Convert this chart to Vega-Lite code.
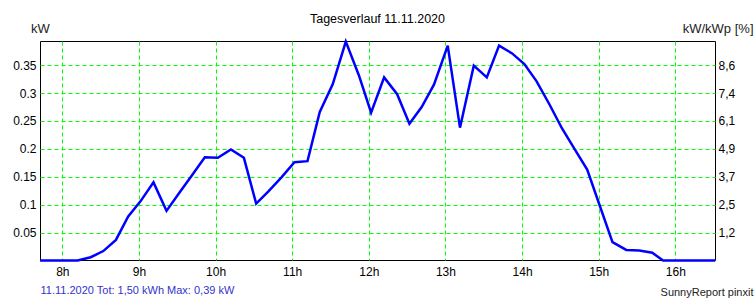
{
  "$schema": "https://vega.github.io/schema/vega-lite/v6.json",
  "width": 675,
  "height": 219,
  "autosize": {"type": "none"},
  "padding": {"left": 40, "top": 41, "right": 41, "bottom": 40},
  "background": "white",
  "title": {"text": "Tagesverlauf 11.11.2020", "anchor": "middle", "baseline": "alphabetic", "offset": 17, "dy": 30.5, "fontSize": 12.5, "font": "Liberation Sans", "fontWeight": "normal", "color": "#000000"},
  "config": {
    "view": {"stroke": "#000000", "strokeWidth": 1},
    "font": "Liberation Sans",
    "axis": {"labelFont": "Liberation Sans", "labelFontSize": 12, "labelColor": "#000000", "titleFont": "Liberation Sans", "titleFontWeight": "normal", "ticks": false, "domain": false}
  },
  "data": {"values": [
    {"h": 7.71, "kw": 0}, {"h": 8.2, "kw": 0}, {"h": 8.37, "kw": 0.006}, {"h": 8.535, "kw": 0.017},
    {"h": 8.7, "kw": 0.037}, {"h": 8.86, "kw": 0.079}, {"h": 9.02, "kw": 0.106}, {"h": 9.19, "kw": 0.14},
    {"h": 9.36, "kw": 0.089}, {"h": 9.53, "kw": 0.122}, {"h": 9.7, "kw": 0.154}, {"h": 9.86, "kw": 0.185},
    {"h": 10.03, "kw": 0.184}, {"h": 10.2, "kw": 0.199}, {"h": 10.37, "kw": 0.184}, {"h": 10.53, "kw": 0.102},
    {"h": 10.69, "kw": 0.124}, {"h": 10.86, "kw": 0.149}, {"h": 11.03, "kw": 0.176}, {"h": 11.2, "kw": 0.178},
    {"h": 11.36, "kw": 0.266}, {"h": 11.53, "kw": 0.316}, {"h": 11.7, "kw": 0.392}, {"h": 11.87, "kw": 0.332},
    {"h": 12.03, "kw": 0.265}, {"h": 12.2, "kw": 0.328}, {"h": 12.37, "kw": 0.298}, {"h": 12.53, "kw": 0.245},
    {"h": 12.69, "kw": 0.275}, {"h": 12.85, "kw": 0.315}, {"h": 13.03, "kw": 0.385}, {"h": 13.19, "kw": 0.238},
    {"h": 13.37, "kw": 0.349}, {"h": 13.54, "kw": 0.328}, {"h": 13.7, "kw": 0.385}, {"h": 13.87, "kw": 0.371},
    {"h": 14.03, "kw": 0.352}, {"h": 14.19, "kw": 0.321}, {"h": 14.36, "kw": 0.279}, {"h": 14.52, "kw": 0.237},
    {"h": 14.68, "kw": 0.201}, {"h": 14.85, "kw": 0.163}, {"h": 15.01, "kw": 0.1}, {"h": 15.18, "kw": 0.033},
    {"h": 15.36, "kw": 0.019}, {"h": 15.53, "kw": 0.018}, {"h": 15.7, "kw": 0.014}, {"h": 15.84, "kw": 0},
    {"h": 16.52, "kw": 0}
  ]},
  "layer": [
    {
      "mark": {"type": "line", "color": "#0000ff", "strokeWidth": 2.5, "clip": false},
      "encoding": {
        "x": {"field": "h", "type": "quantitative", "scale": {"domain": [7.709, 16.518], "nice": false, "zero": false},
          "axis": {"orient": "bottom", "values": [8, 9, 10, 11, 12, 13, 14, 15, 16], "labelExpr": "datum.value + 'h'", "labelPadding": 6,
            "grid": true, "gridColor": "#00ff00", "gridDash": [4, 3], "gridWidth": 1,
            "title": "11.11.2020 Tot: 1,50 kWh Max: 0,39 kW", "titleColor": "#3333cc", "titleFontSize": 11, "titleAlign": "left", "titleAnchor": "start", "titleBaseline": "alphabetic", "titleX": 0, "titleY": 33}},
        "y": {"field": "kw", "type": "quantitative", "scale": {"domain": [0.001, 0.3932], "nice": false, "zero": false},
          "axis": {"orient": "left", "values": [0.05, 0.1, 0.15, 0.2, 0.25, 0.3, 0.35], "labelExpr": "'' + datum.value", "labelPadding": 4,
            "grid": true, "gridColor": "#00ff00", "gridDash": [4, 3], "gridWidth": 1,
            "title": "kW", "titleAngle": 0, "titleFontSize": 13, "titleColor": "#222222", "titleAlign": "center", "titleBaseline": "alphabetic", "titleX": 0, "titleY": -9}}
      }
    },
    {
      "mark": {"type": "line", "opacity": 0},
      "encoding": {
        "x": {"field": "h", "type": "quantitative", "scale": {"domain": [7.709, 16.518], "nice": false, "zero": false},
          "axis": {"orient": "bottom", "labels": false, "grid": false, "title": "SunnyReport pinxit", "titleColor": "#222222", "titleFontSize": 11, "titleAlign": "right", "titleBaseline": "alphabetic", "titleX": 713, "titleY": 35}},
        "y": {"field": "kw", "type": "quantitative", "scale": {"domain": [0.001, 0.3932], "nice": false, "zero": false},
          "axis": {"orient": "right", "values": [0.05, 0.1, 0.15, 0.2, 0.25, 0.3, 0.35], "labelPadding": 3, "grid": false,
            "labelExpr": "datum.value > 0.325 ? '8,6' : datum.value > 0.275 ? '7,4' : datum.value > 0.225 ? '6,1' : datum.value > 0.175 ? '4,9' : datum.value > 0.125 ? '3,7' : datum.value > 0.075 ? '2,5' : '1,2'",
            "title": "kW/kWp [%]", "titleAngle": 0, "titleFontSize": 13, "titleColor": "#222222", "titleAlign": "right", "titleBaseline": "alphabetic", "titleX": 38, "titleY": -9}}
      }
    }
  ],
  "resolve": {"scale": {"x": "independent", "y": "independent"}, "axis": {"x": "independent", "y": "independent"}}
}
